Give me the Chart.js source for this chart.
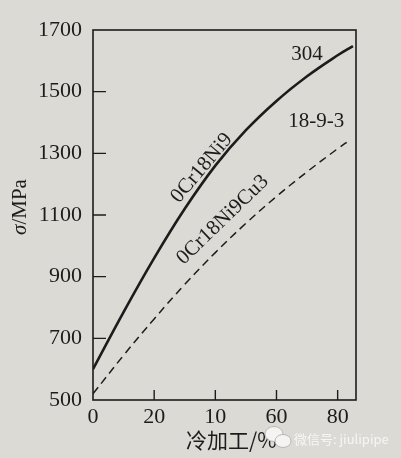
<!DOCTYPE html>
<html lang="zh">
<head>
  <meta charset="UTF-8" />
  <title>冷加工对强度的影响</title>
  <script src="https://cdn.jsdelivr.net/npm/chart.js"></script>
  <style>
    html, body {
      margin: 0;
      padding: 0;
      background: #dcdad5;
    }
    #wrap {
      width: 401px;
      height: 458px;
    }
  </style>
</head>
<body>
  <div id="wrap"><canvas id="chart" width="401" height="458"></canvas></div>

  <script>
    // cold work (%) and strength (MPa)
    const coldWork = [0, 10, 20, 30, 40, 50, 60, 70, 80, 85];
    const steel304 = [600, 785, 960, 1120, 1260, 1375, 1470, 1550, 1618, 1648];
    const coldWorkCu = [0, 10, 20, 30, 40, 50, 60, 70, 80, 84];
    const steel1893 = [520, 645, 763, 875, 978, 1073, 1160, 1240, 1315, 1343];

    const xTickValues = [0, 20, 40, 60, 80];
    const xTickLabels = ['0', '20', '10', '60', '80'];   // the book prints "10" at 40
    const yTickValues = [500, 700, 900, 1100, 1300, 1500, 1700];

    const ink = '#1c1c1c';
    const serif = '"Liberation Serif", "DejaVu Serif", serif';

    function pts(xs, ys) {
      return xs.map((x, i) => ({ x: x, y: ys[i] }));
    }

    // frame, inward ticks, titles, curve labels, watermark
    const decor = {
      id: 'decor',
      afterDraw(chart) {
        const ctx = chart.ctx;
        const a = chart.chartArea;
        const xs = chart.scales.x, ys = chart.scales.y;
        ctx.save();
        ctx.strokeStyle = ink;
        ctx.lineWidth = 1.6;
        ctx.strokeRect(a.left, a.top, a.right - a.left, a.bottom - a.top);

        ctx.lineWidth = 1.4;
        ctx.beginPath();
        yTickValues.slice(1, -1).forEach(v => {
          const y = ys.getPixelForValue(v);
          ctx.moveTo(a.left, y);
          ctx.lineTo(a.left + 13, y);
        });
        xTickValues.slice(1).forEach(v => {
          const x = xs.getPixelForValue(v);
          ctx.moveTo(x, a.bottom);
          ctx.lineTo(x, a.bottom - 10);
        });
        ctx.stroke();

        // y title
        ctx.fillStyle = ink;
        ctx.save();
        ctx.translate(20, 207);
        ctx.rotate(-Math.PI / 2);
        ctx.textBaseline = 'middle';
        ctx.font = 'italic 21px ' + serif;
        const w1 = ctx.measureText('σ').width;
        ctx.font = '21px ' + serif;
        const w2 = ctx.measureText('/MPa').width;
        ctx.font = 'italic 21px ' + serif;
        ctx.textAlign = 'left';
        ctx.fillText('σ', -(w1 + w2) / 2, 0);
        ctx.font = '21px ' + serif;
        ctx.fillText('/MPa', -(w1 + w2) / 2 + w1, 0);
        ctx.restore();

        // x title
        ctx.font = '21px "Noto Sans CJK SC", sans-serif';
        ctx.textAlign = 'left';
        ctx.textBaseline = 'middle';
        ctx.fillText('冷加工/%', 186, 440);

        // curve labels
        function label(text, x, y, deg) {
          ctx.save();
          ctx.translate(xs.getPixelForValue(x), ys.getPixelForValue(y));
          ctx.rotate(deg * Math.PI / 180);
          ctx.font = '21px ' + serif;
          ctx.textAlign = 'center';
          ctx.textBaseline = 'middle';
          ctx.fillText(text, 0, 0);
          ctx.restore();
        }
        label('304', 70, 1622, 0);
        label('18-9-3', 73, 1402, 0);
        label('0Cr18Ni9', 35.6, 1252, -50);
        label('0Cr18Ni9Cu3', 42.4, 1084, -44);

        // watermark
        ctx.fillStyle = '#f4f4f2';
        ctx.strokeStyle = '#b9b7b2';
        ctx.lineWidth = 1;
        ctx.beginPath();
        ctx.ellipse(274, 434, 9, 7.5, 0, 0, Math.PI * 2);
        ctx.fill(); ctx.stroke();
        ctx.beginPath();
        ctx.ellipse(283, 441, 8, 6.5, 0, 0, Math.PI * 2);
        ctx.fill(); ctx.stroke();
        ctx.font = '13px "Noto Sans CJK SC", sans-serif';
        ctx.fillStyle = '#f6f6f4';
        ctx.textAlign = 'left';
        ctx.fillText('微信号: jiulipipe', 294, 439);
        ctx.restore();
      }
    };

    new Chart(document.getElementById('chart'), {
      type: 'line',
      data: {
        datasets: [
          {
            label: '304',
            data: pts(coldWork, steel304),
            borderColor: ink,
            borderWidth: 2.6,
            pointRadius: 0,
            tension: 0.4
          },
          {
            label: '18-9-3',
            data: pts(coldWorkCu, steel1893),
            borderColor: ink,
            borderWidth: 1.5,
            borderDash: [8, 5],
            pointRadius: 0,
            tension: 0.4
          }
        ]
      },
      options: {
        responsive: false,
        animation: false,
        layout: { padding: { top: 30, right: 45, left: 0, bottom: 0 } },
        plugins: { legend: { display: false }, tooltip: { enabled: false } },
        scales: {
          x: {
            type: 'linear',
            min: 0,
            max: 86,
            grid: { display: false, drawTicks: false },
            border: { display: false },
            afterBuildTicks: s => { s.ticks = xTickValues.map(v => ({ value: v })); },
            afterFit: s => { s.height = 58; },
            ticks: {
              padding: 4,
              color: ink,
              font: { family: serif, size: 22 },
              maxRotation: 0,
              callback: v => xTickLabels[xTickValues.indexOf(v)]
            }
          },
          y: {
            min: 500,
            max: 1700,
            grid: { display: false, drawTicks: false },
            border: { display: false },
            afterBuildTicks: s => { s.ticks = yTickValues.map(v => ({ value: v })); },
            afterFit: s => { s.width = 93; },
            ticks: {
              padding: 11,
              color: ink,
              font: { family: serif, size: 22 },
              callback: v => String(v)
            }
          }
        }
      },
      plugins: [decor]
    });
  </script>
</body>
</html>
